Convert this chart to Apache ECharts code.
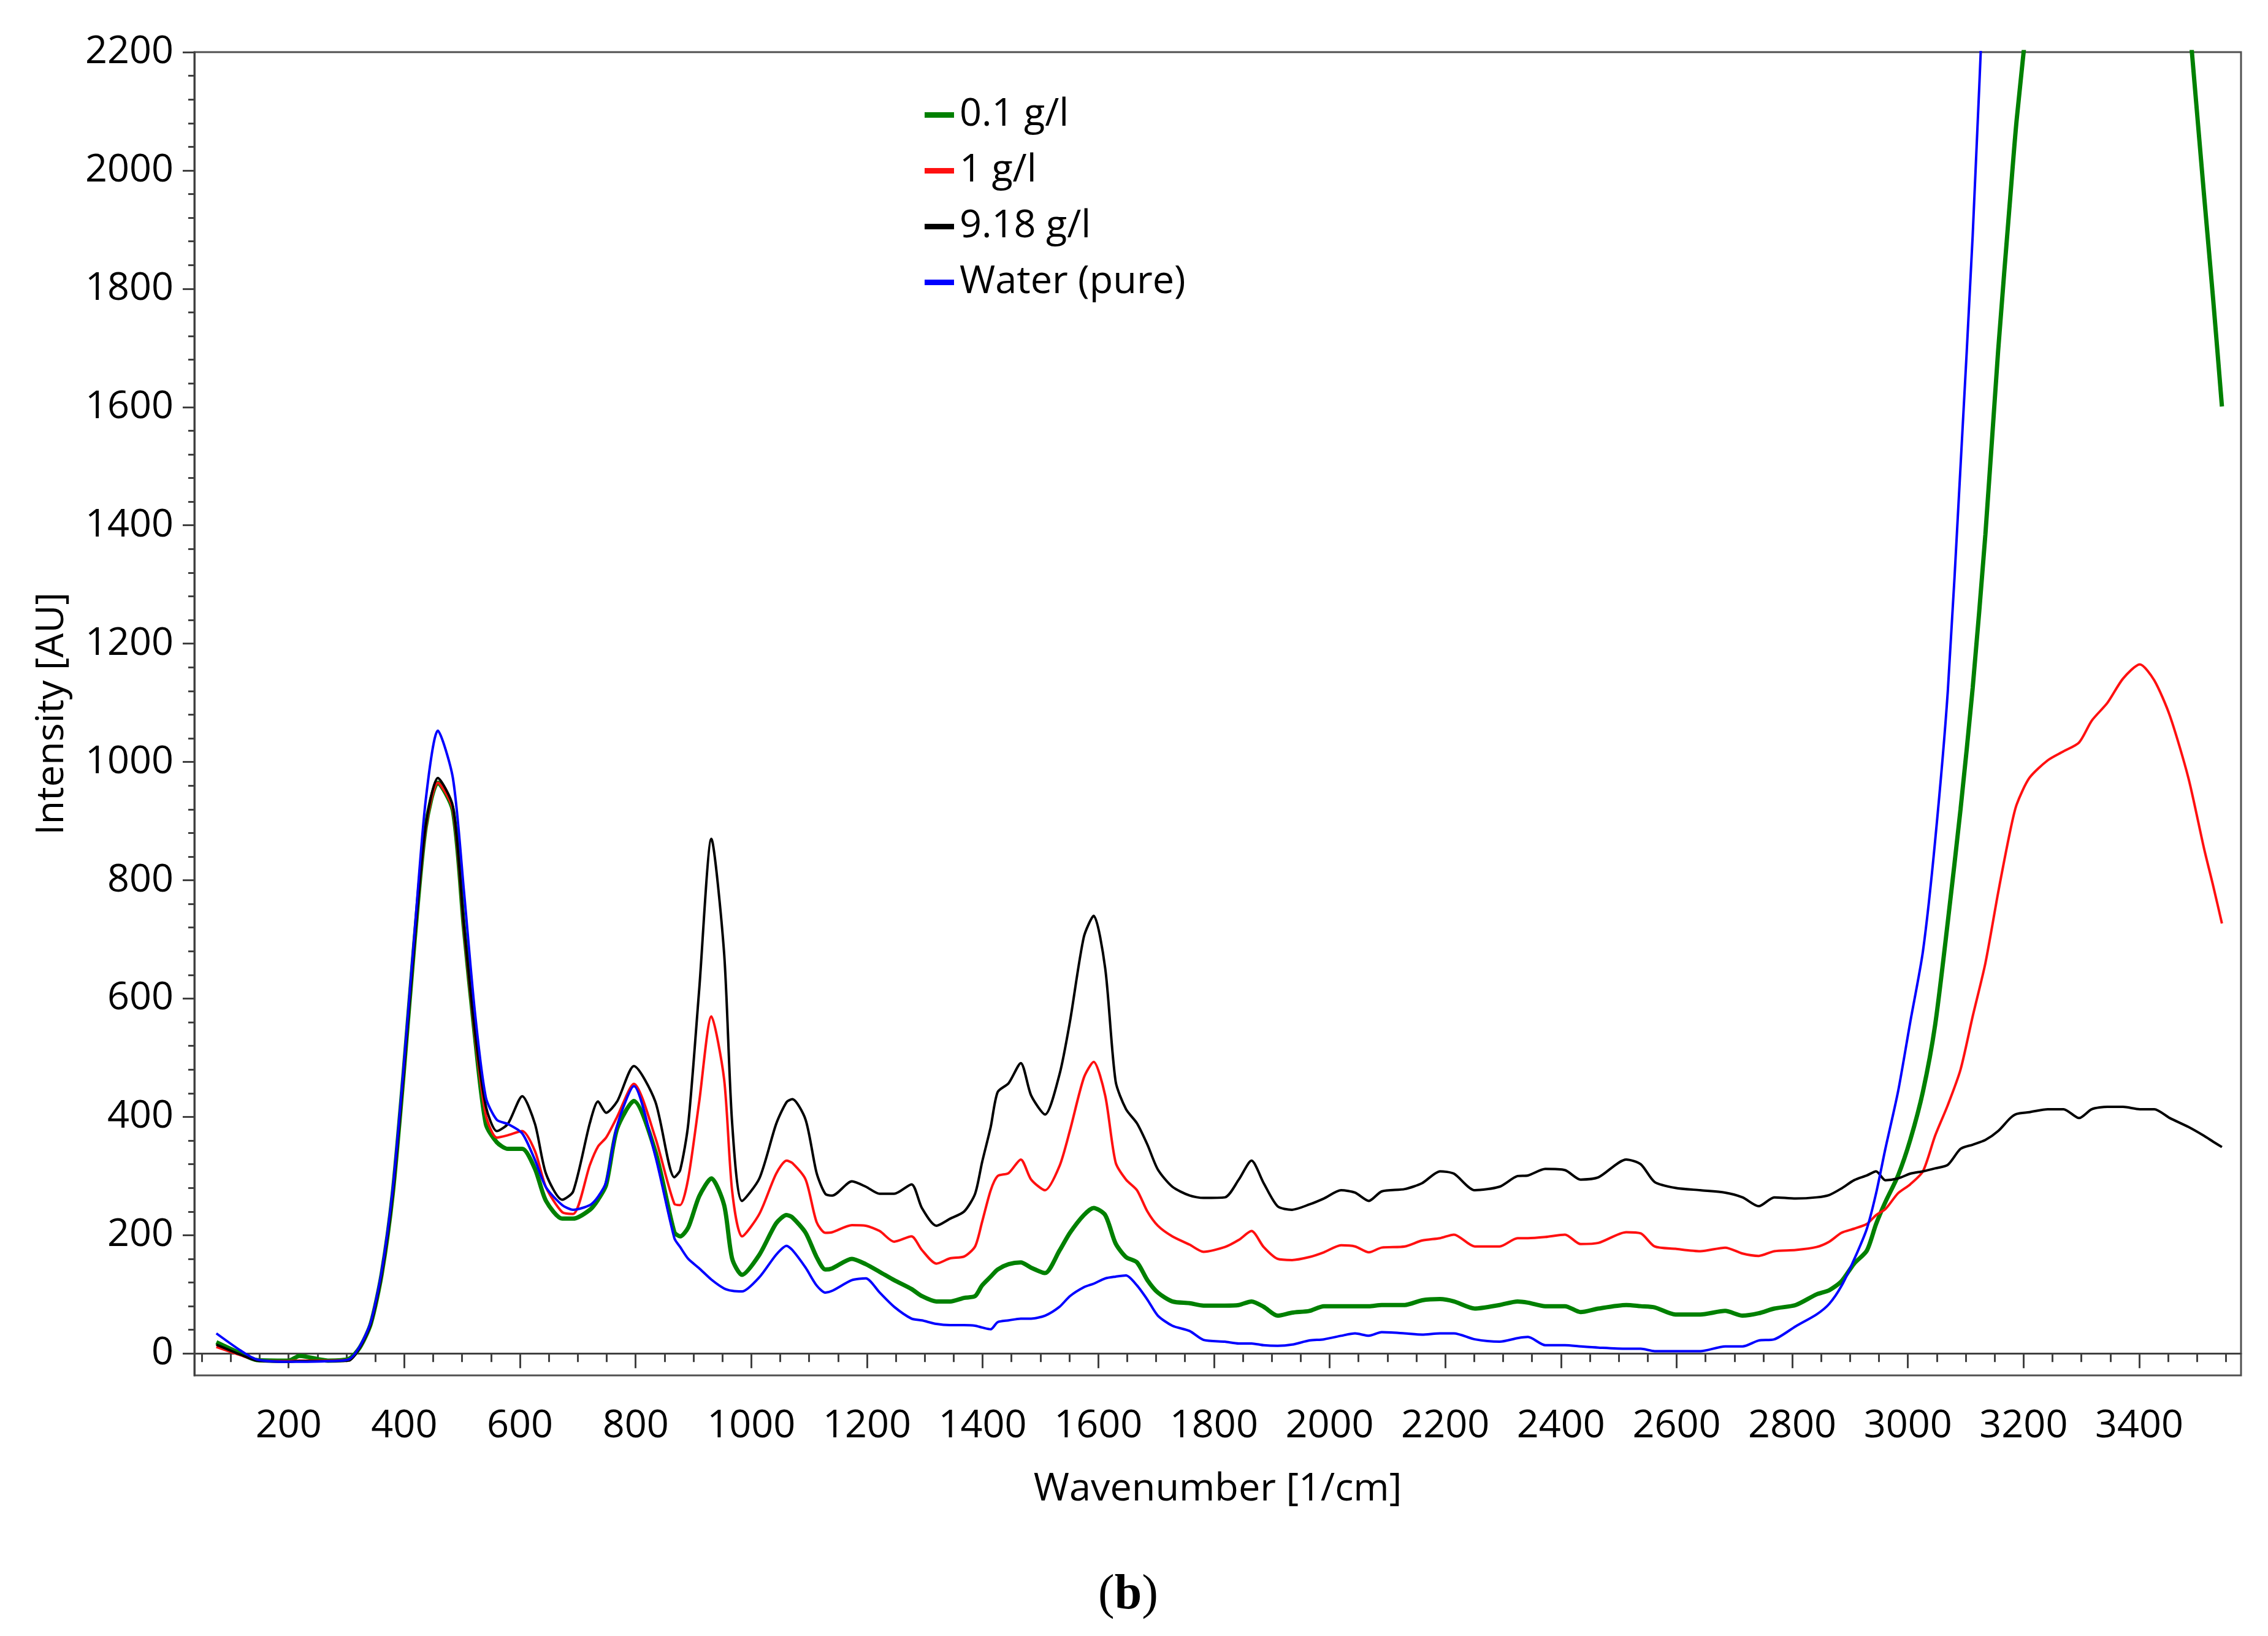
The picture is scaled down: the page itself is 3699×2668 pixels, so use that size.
<!DOCTYPE html>
<html>
<head>
<meta charset="utf-8">
<title>Raman spectra</title>
<script src="https://cdn.jsdelivr.net/npm/echarts@6/dist/echarts.min.js"></script>
<style>
    html, body { margin: 0; padding: 0; background: #fff; }
    #chart { width: 3699px; height: 2668px; }
</style>
</head>
<body>
<div id="chart"></div>
<script>
// wavenumber [1/cm] shared by all four spectra
const wavenumber = [75, 117, 145, 200, 219, 268, 304, 323, 342, 361, 380, 399, 418, 437, 458, 484, 503, 522, 541, 560,
    579, 604, 626, 645, 673, 692, 721, 735, 749, 768, 797, 834, 867, 877, 891, 910, 931, 953, 967, 984,
    1014, 1043, 1061, 1071, 1094, 1113, 1128, 1140, 1174, 1198, 1222, 1247, 1277, 1295, 1320, 1344, 1368, 1387, 1399, 1414,
    1426, 1445, 1466, 1484, 1508, 1533, 1551, 1575, 1592, 1612, 1630, 1648, 1667, 1685, 1703, 1728, 1758, 1782, 1819, 1843,
    1865, 1886, 1910, 1935, 1965, 1990, 2020, 2044, 2068, 2090, 2130, 2160, 2191, 2215, 2251, 2294, 2325, 2343, 2373, 2407,
    2434, 2465, 2513, 2538, 2562, 2598, 2641, 2684, 2714, 2742, 2769, 2806, 2842, 2864, 2885, 2907, 2929, 2945, 2961, 2983,
    3004, 3026, 3047, 3069, 3091, 3112, 3134, 3156, 3177, 3188, 3210, 3242, 3269, 3296, 3318, 3345, 3372, 3401, 3426, 3453,
    3485, 3512, 3528, 3543];

const conc01 = [19, 0, -11, -12, -4, -12, -9, 10, 50, 135, 270, 475, 700, 890, 965, 918, 720, 538, 388, 357,
    346, 346, 312, 258, 228, 228, 243, 260, 285, 380, 427, 342, 205, 198, 213, 266, 296, 251, 160, 133,
    167, 220, 234, 230, 204, 163, 142, 144, 160, 151, 138, 124, 109, 97, 88, 88, 94, 97, 115, 130,
    142, 151, 154, 145, 136, 174, 204, 234, 246, 234, 186, 163, 154, 124, 103, 88, 85, 81, 81, 82,
    88, 79, 64, 69, 72, 80, 80, 80, 80, 82, 82, 90, 92, 88, 76, 82, 88, 86, 80, 80,
    70, 76, 82, 80, 78, 66, 66, 72, 64, 68, 76, 82, 100, 107, 122, 152, 174, 219, 256, 301,
    361, 443, 555, 730, 920, 1125, 1385, 1695, 1955, 2085, 2290, 2560, 2760, 2920, 3010, 3060, 3050, 2990, 2860, 2640,
    2270, 1959, 1780, 1601];

const conc1 = [11, -3, -11, -13, -12, -12, -10, 10, 50, 135, 270, 475, 700, 888, 965, 920, 720, 540, 403, 365,
    369, 376, 342, 281, 239, 236, 319, 350, 365, 400, 456, 365, 253, 251, 296, 426, 570, 464, 274, 198,
    236, 304, 326, 322, 294, 222, 204, 205, 217, 216, 207, 189, 198, 175, 152, 161, 164, 181, 222, 276,
    300, 305, 328, 294, 276, 317, 377, 466, 493, 436, 323, 294, 276, 240, 216, 198, 184, 172, 180, 192,
    207, 180, 160, 158, 163, 171, 183, 181, 171, 179, 181, 191, 195, 201, 181, 181, 195, 195, 197, 201,
    185, 187, 205, 203, 181, 177, 173, 179, 169, 165, 173, 175, 180, 189, 204, 211, 219, 234, 244, 271,
    286, 308, 368, 420, 480, 570, 660, 779, 884, 928, 973, 1003, 1018, 1033, 1070, 1100, 1141, 1165, 1138, 1078,
    973, 854, 790, 727];

const conc918 = [15, -2, -12, -14, -13, -13, -12, 10, 50, 135, 270, 475, 700, 892, 973, 925, 725, 545, 418, 376,
    388, 435, 388, 304, 260, 274, 390, 426, 407, 426, 486, 426, 298, 310, 388, 616, 870, 677, 388, 258,
    296, 388, 425, 430, 395, 305, 270, 267, 291, 282, 270, 270, 286, 246, 216, 228, 240, 270, 323, 383,
    442, 457, 491, 436, 404, 472, 561, 704, 740, 651, 460, 413, 389, 353, 311, 282, 267, 263, 264, 294,
    326, 288, 249, 243, 252, 262, 276, 272, 258, 274, 278, 288, 308, 304, 276, 282, 300, 301, 312, 310,
    294, 298, 328, 320, 290, 280, 276, 272, 264, 249, 264, 262, 264, 268, 279, 293, 301, 308, 293, 296,
    304, 308, 313, 319, 346, 353, 361, 376, 398, 405, 408, 413, 413, 398, 413, 417, 417, 413, 413, 398,
    383, 368, 358, 349];

const water = [34, 5, -10, -14, -14, -13, -10, 12, 53, 140, 278, 485, 715, 935, 1053, 973, 783, 578, 433, 395,
    388, 372, 327, 281, 251, 243, 251, 265, 290, 385, 452, 334, 195, 180, 160, 144, 125, 110, 106, 105,
    129, 167, 182, 175, 145, 115, 103, 106, 124, 127, 103, 79, 59, 56, 50, 48, 48, 47, 44, 41,
    53, 56, 59, 59, 64, 79, 97, 112, 118, 127, 130, 132, 115, 91, 64, 47, 38, 23, 20, 17,
    17, 14, 13, 15, 22, 24, 30, 34, 30, 36, 34, 32, 34, 34, 24, 20, 26, 28, 14, 14,
    12, 10, 8, 8, 4, 4, 4, 12, 12, 22, 24, 46, 66, 84, 114, 159, 211, 271, 346, 443,
    560, 680, 866, 1120, 1500, 1890, 2390, 2950, 3500, 3800, 4300, 4900, 5300, 5600, 5800, 5950, 6000, 5950, 5800, 5500,
    5000, 4600, 4400, 4200];

const xTickLabels = [200, 400, 600, 800, 1000, 1200, 1400, 1600, 1800, 2000, 2200, 2400, 2600, 2800, 3000, 3200, 3400];
const yTickLabels = [0, 200, 400, 600, 800, 1000, 1200, 1400, 1600, 1800, 2000, 2200];

const xMinorTicks = [];
for (let v = 50; v <= 3550; v += 50) xMinorTicks.push(v);
const yMinorTicks = [];
for (let v = 0; v <= 2200; v += 40) yMinorTicks.push(v);

const FONT = '"Open Sans", "Noto Sans", sans-serif';
const X_MIN = 37, X_MAX = 3576, Y_MIN = -37, Y_MAX = 2200;

function pairs(values) {
    return wavenumber.map((w, i) => [w, values[i]]);
}

function makeSeries(name, values, color, width) {
    return {
        name: name,
        type: 'line',
        data: pairs(values),
        showSymbol: false,
        symbol: 'none',
        smooth: 0.25,
        clip: true,
        itemStyle: { color: color },
        lineStyle: { color: color, width: width }
    };
}

const chart = echarts.init(document.getElementById('chart'));

const option = {
    animation: false,
    backgroundColor: '#fff',
    grid: {
        left: 317,
        right: 44,
        top: 85,
        bottom: 425,
        show: true,
        borderColor: '#505050',
        borderWidth: 3
    },
    legend: {
        orient: 'vertical',
        left: 1508,
        top: 156,
        padding: 0,
        icon: 'rect',
        itemWidth: 48,
        itemHeight: 9,
        itemGap: 28,
        textStyle: { fontFamily: FONT, fontSize: 63, lineHeight: 63, color: '#000', padding: [0, 0, 0, 4] },
        data: ['0.1 g/l', '1 g/l', '9.18 g/l', 'Water (pure)']
    },
    xAxis: [
        {
            type: 'value',
            min: X_MIN,
            max: X_MAX,
            position: 'bottom',
            name: 'Wavenumber [1/cm]',
            nameLocation: 'middle',
            nameGap: 155,
            nameTextStyle: { fontFamily: FONT, fontSize: 63, color: '#000' },
            axisLine: { show: true, lineStyle: { color: '#404040', width: 3 } },
            axisTick: { show: true, customValues: xTickLabels, length: 24, lineStyle: { color: '#404040', width: 3 } },
            axisLabel: {
                customValues: xTickLabels,
                formatter: v => String(v),
                fontFamily: FONT, fontSize: 63, color: '#000', margin: 52
            },
            splitLine: { show: false }
        },
        {
            type: 'value',
            min: X_MIN,
            max: X_MAX,
            position: 'bottom',
            axisLine: { show: false },
            axisTick: { show: true, customValues: xMinorTicks, length: 14, lineStyle: { color: '#404040', width: 3 } },
            axisLabel: { show: false },
            splitLine: { show: false }
        }
    ],
    yAxis: [
        {
            type: 'value',
            min: Y_MIN,
            max: Y_MAX,
            position: 'left',
            name: 'Intensity [AU]',
            nameLocation: 'middle',
            nameGap: 200,
            nameTextStyle: { fontFamily: FONT, fontSize: 63, color: '#000' },
            axisLine: { show: true, lineStyle: { color: '#404040', width: 3 } },
            axisTick: { show: true, customValues: yTickLabels, length: 19, lineStyle: { color: '#404040', width: 3 } },
            axisLabel: {
                customValues: yTickLabels,
                formatter: v => String(v),
                fontFamily: FONT, fontSize: 63, color: '#000', margin: 34
            },
            splitLine: { show: false }
        },
        {
            type: 'value',
            min: Y_MIN,
            max: Y_MAX,
            position: 'left',
            axisLine: { show: false },
            axisTick: { show: true, customValues: yMinorTicks, length: 10, lineStyle: { color: '#404040', width: 3 } },
            axisLabel: { show: false },
            splitLine: { show: false }
        }
    ],
    graphic: [
        {
            type: 'text',
            x: 1840,
            y: 2602,
            style: {
                text: '({b|b})',
                font: '80px "Liberation Serif", serif',
                fill: '#000',
                align: 'center',
                verticalAlign: 'middle',
                rich: { b: { fontWeight: 'bold', fontSize: 80, fontFamily: '"Liberation Serif", serif' } }
            }
        }
    ],
    series: [
        makeSeries('0.1 g/l', conc01, '#008000', 7),
        makeSeries('1 g/l', conc1, '#ff1010', 4),
        makeSeries('9.18 g/l', conc918, '#000000', 4),
        makeSeries('Water (pure)', water, '#0000ff', 4)
    ]
};

chart.setOption(option);
</script>
</body>
</html>
